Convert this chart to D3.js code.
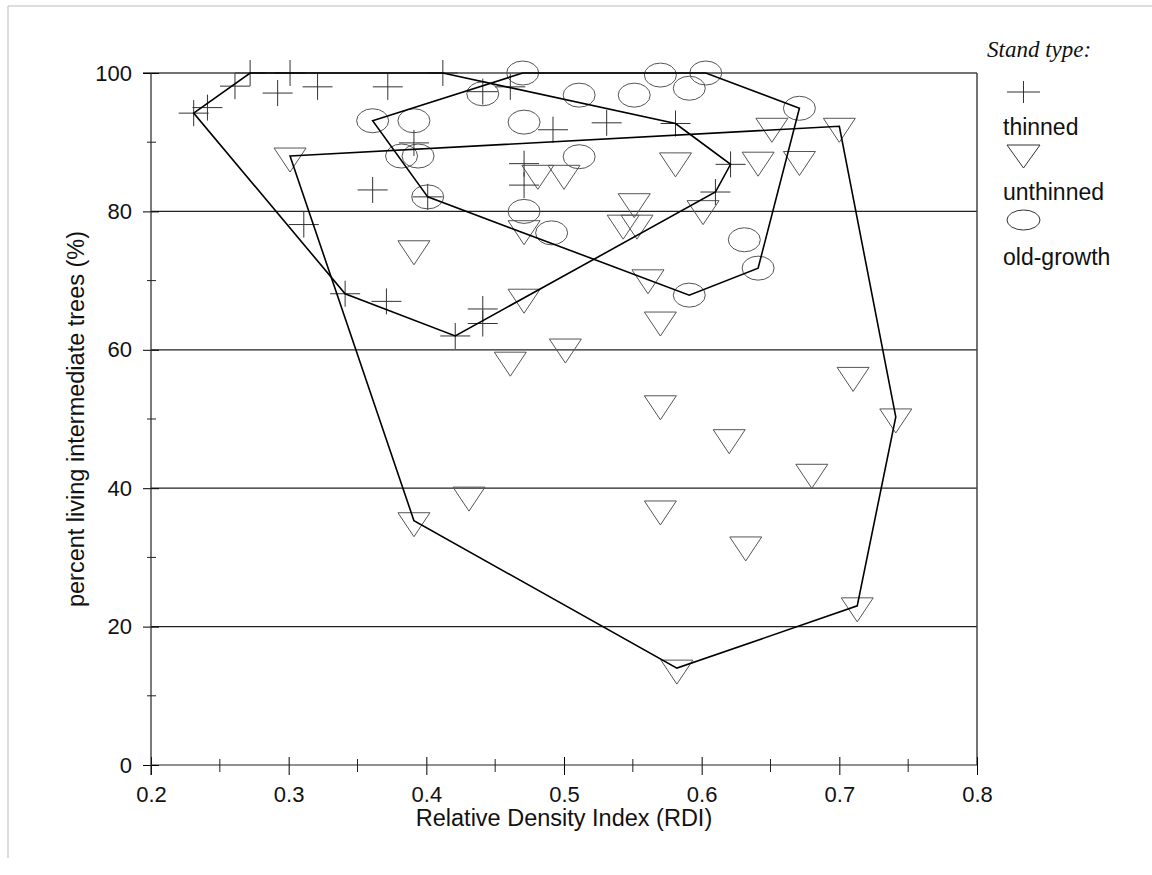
<!DOCTYPE html>
<html>
<head>
<meta charset="utf-8">
<script src="https://cdn.jsdelivr.net/npm/d3@7"></script>
<style>
  body { margin: 0; background: #fff; }
  svg { display: block; font-family: Arial, "Liberation Sans", sans-serif; }
</style>
</head>
<body>
<div id="chart"></div>
<script>
// RDI / percent living intermediate trees
var thinned = [
  [0.231, 94.2], [0.241, 95], [0.261, 98.1], [0.272, 100], [0.292, 97.1],
  [0.301, 100], [0.321, 98], [0.372, 98], [0.412, 100], [0.441, 97.3],
  [0.461, 98], [0.492, 91.8], [0.531, 92.8], [0.581, 92.7], [0.361, 83.1],
  [0.311, 78.1], [0.391, 89.9], [0.401, 82.1], [0.471, 86.9], [0.471, 83.8],
  [0.621, 86.8], [0.610, 82.8], [0.341, 68.1], [0.371, 67], [0.421, 62],
  [0.441, 65.9], [0.441, 63.8]
];
var unthinned = [
  [0.301, 88], [0.391, 74.6], [0.481, 85.5], [0.500, 85.5], [0.581, 87.3],
  [0.551, 81.4], [0.543, 78.3], [0.553, 78.3], [0.601, 80.4], [0.471, 77.5],
  [0.561, 70.4], [0.471, 67.6], [0.651, 92.3], [0.700, 92.3], [0.641, 87.4],
  [0.671, 87.5], [0.570, 64.3], [0.501, 60.4], [0.710, 56.3], [0.570, 52.2],
  [0.620, 47.3], [0.680, 42.3], [0.570, 37], [0.741, 50.3], [0.461, 58.5],
  [0.431, 39], [0.391, 35.3], [0.582, 14], [0.713, 23], [0.632, 31.8]
];
var oldGrowth = [
  [0.361, 93.1], [0.391, 93.1], [0.382, 88], [0.394, 88], [0.401, 82.1],
  [0.470, 100], [0.441, 97], [0.511, 96.8], [0.551, 96.8], [0.570, 99.7],
  [0.603, 100], [0.591, 97.8], [0.471, 92.9], [0.511, 87.9], [0.471, 80],
  [0.491, 76.9], [0.591, 67.9], [0.671, 94.9], [0.631, 75.9], [0.641, 71.8]
];

// outline polygons around each stand type
var thinnedHull = [[0.231, 94.2], [0.272, 100], [0.412, 100], [0.581, 92.7],
  [0.621, 86.8], [0.610, 82.8], [0.421, 62], [0.341, 68.1]];
var unthinnedHull = [[0.301, 88], [0.700, 92.3], [0.741, 50.3], [0.713, 23],
  [0.582, 14], [0.391, 35.3]];
var oldGrowthHull = [[0.361, 93.1], [0.470, 100], [0.603, 100], [0.671, 94.9],
  [0.641, 71.8], [0.591, 67.9], [0.401, 82.1]];

var xTicks = [0.2, 0.3, 0.4, 0.5, 0.6, 0.7, 0.8];
var xMinorTicks = [0.25, 0.35, 0.45, 0.55, 0.65, 0.75];
var yTicks = [0, 20, 40, 60, 80, 100];
var yMinorTicks = [10, 30, 50, 70, 90];
var gridValues = [20, 40, 60, 80];
var legendItems = ['thinned', 'unthinned', 'old-growth'];

var _width = 1152, _height = 875;
var _left = 151, _right = 977, _top = 73, _bottom = 765;

var _svg = d3.select('#chart').append('svg')
  .attr('width', _width)
  .attr('height', _height);

_svg.append('rect').attr('width', _width).attr('height', _height).attr('fill', '#fff');

// faint scan border
_svg.append('path')
  .attr('d', 'M8,858 L8,6 L1152,6')
  .attr('fill', 'none').attr('stroke', '#bbb').attr('stroke-width', 1);

var x = d3.scaleLinear().domain([0.2, 0.8]).range([_left, _right]);
var y = d3.scaleLinear().domain([0, 100]).range([_bottom, _top]);

// gridlines and frame
_svg.append('g').selectAll('line')
  .data(gridValues)
  .enter().append('line')
    .attr('x1', _left).attr('x2', _right)
    .attr('y1', function(d) { return y(d); })
    .attr('y2', function(d) { return y(d); })
    .attr('stroke', '#222').attr('stroke-width', 1.2);

_svg.append('line')
  .attr('x1', _left - 8).attr('x2', _right)
  .attr('y1', y(100)).attr('y2', y(100))
  .attr('stroke', '#444').attr('stroke-width', 1.5);
_svg.append('line')
  .attr('x1', _right).attr('x2', _right)
  .attr('y1', y(100)).attr('y2', _bottom)
  .attr('stroke', '#444').attr('stroke-width', 1.5);

// x axis
var xAxis = d3.axisBottom(x).tickValues(xTicks).tickSize(10).tickPadding(11)
  .tickFormat(d3.format('.1f'));
var gx = _svg.append('g')
  .attr('transform', 'translate(0,' + _bottom + ')')
  .call(xAxis);
gx.selectAll('.tick line').attr('y1', -8).attr('y2', 10);
gx.select('.domain').remove();
gx.append('line').attr('x1', _left).attr('x2', _right).attr('stroke', '#222').attr('stroke-width', 1.2);
gx.selectAll('.minor')
  .data(xMinorTicks)
  .enter().append('line')
    .attr('class', 'minor')
    .attr('x1', function(d) { return x(d); })
    .attr('x2', function(d) { return x(d); })
    .attr('y1', -6).attr('y2', 7)
    .attr('stroke', '#222');
gx.selectAll('text').attr('font-size', 22).attr('fill', '#111');

// y axis
var yAxis = d3.axisLeft(y).tickValues(yTicks).tickSize(8).tickPadding(11);
var gy = _svg.append('g')
  .attr('transform', 'translate(' + _left + ',0)')
  .call(yAxis);
gy.selectAll('.tick line').attr('x1', -8).attr('x2', 8);
gy.select('.domain').remove();
gy.append('line').attr('y1', _top).attr('y2', _bottom + 10).attr('stroke', '#222').attr('stroke-width', 1.2);
gy.selectAll('.minor')
  .data(yMinorTicks)
  .enter().append('line')
    .attr('class', 'minor')
    .attr('y1', function(d) { return y(d); })
    .attr('y2', function(d) { return y(d); })
    .attr('x1', -4).attr('x2', 5)
    .attr('stroke', '#222');
gy.selectAll('text').attr('font-size', 22).attr('fill', '#111');

// axis titles
_svg.append('text')
  .attr('x', (x(0.2) + x(0.8)) / 2)
  .attr('y', 826)
  .attr('text-anchor', 'middle')
  .attr('font-size', 23.5)
  .attr('fill', '#111')
  .text('Relative Density Index (RDI)');

_svg.append('text')
  .attr('transform', 'translate(84,' + y(50) + ') rotate(-90)')
  .attr('text-anchor', 'middle')
  .attr('font-size', 23.5)
  .attr('fill', '#111')
  .text('percent living intermediate trees (%)');

// marker shapes
function crossPath(cx, cy) {
  return 'M' + (cx - 15) + ',' + cy + 'H' + (cx + 15) +
         'M' + cx + ',' + (cy - 13) + 'V' + (cy + 13);
}
function trianglePath(cx, cy) {
  return 'M' + (cx - 16) + ',' + (cy - 8) + 'L' + (cx + 16) + ',' + (cy - 8) +
         'L' + cx + ',' + (cy + 16) + 'Z';
}

_svg.append('g').attr('class', 'old-growth')
  .selectAll('ellipse')
  .data(oldGrowth)
  .enter().append('ellipse')
    .attr('cx', function(d) { return x(d[0]); })
    .attr('cy', function(d) { return y(d[1]); })
    .attr('rx', 16).attr('ry', 12)
    .attr('fill', 'none').attr('stroke', '#555').attr('stroke-width', 1);

_svg.append('g').attr('class', 'unthinned')
  .selectAll('path')
  .data(unthinned)
  .enter().append('path')
    .attr('d', function(d) { return trianglePath(x(d[0]), y(d[1])); })
    .attr('fill', 'none').attr('stroke', '#555').attr('stroke-width', 1);

_svg.append('g').attr('class', 'thinned')
  .selectAll('path')
  .data(thinned)
  .enter().append('path')
    .attr('d', function(d) { return crossPath(x(d[0]), y(d[1])); })
    .attr('fill', 'none').attr('stroke', '#333').attr('stroke-width', 1);

// outlines
var hullLine = d3.line()
  .x(function(d) { return x(d[0]); })
  .y(function(d) { return y(d[1]); })
  .curve(d3.curveLinearClosed);

_svg.append('g').attr('class', 'hulls')
  .selectAll('path')
  .data([thinnedHull, unthinnedHull, oldGrowthHull])
  .enter().append('path')
    .attr('d', hullLine)
    .attr('fill', 'none').attr('stroke', '#000').attr('stroke-width', 1.6);

// legend
var legend = _svg.append('g').attr('class', 'legend');
legend.append('text')
  .attr('x', 987).attr('y', 57)
  .attr('font-family', '"Liberation Serif", "Times New Roman", serif')
  .attr('font-style', 'italic')
  .attr('font-size', 23)
  .attr('fill', '#111')
  .text('Stand type:');

legend.append('path')
  .attr('d', 'M1007,92H1040M1023.5,81V103')
  .attr('fill', 'none').attr('stroke', '#333');
legend.append('path')
  .attr('d', 'M1007,145L1040,145L1023.5,168Z')
  .attr('fill', 'none').attr('stroke', '#333');
legend.append('ellipse')
  .attr('cx', 1023.5).attr('cy', 220).attr('rx', 16.5).attr('ry', 10)
  .attr('fill', 'none').attr('stroke', '#333');

legend.selectAll('.label')
  .data(legendItems)
  .enter().append('text')
    .attr('class', 'label')
    .attr('x', 1003)
    .attr('y', function(d, i) { return 135 + i * 65; })
    .attr('font-size', 23)
    .attr('fill', '#111')
    .text(function(d) { return d; });
</script>
</body>
</html>
